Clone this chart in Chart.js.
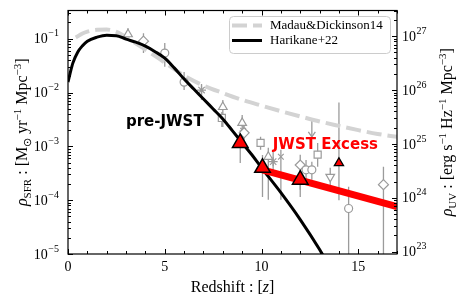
<!DOCTYPE html>
<html>
<head>
<meta charset="utf-8">
<script src="https://cdn.jsdelivr.net/npm/chart.js@4.4.1/dist/chart.umd.min.js"></script>
<style>
html,body{margin:0;padding:0;background:#ffffff;overflow:hidden;}
#c{display:block;}
</style>
</head>
<body>
<canvas id="c" width="463" height="308"></canvas>
<script>
// ---------------- data ----------------
const mdZ   = [0.4, 0.75, 1, 1.5, 2, 2.5, 3, 3.5, 4, 5, 6, 7, 8, 9, 10, 11, 12, 13, 14, 15, 16, 17];
const mdRho = [0.105, 0.125, 0.135, 0.146, 0.148, 0.134, 0.108, 0.082, 0.063, 0.036, 0.0205, 0.0135, 0.0098,
               0.0073, 0.0057, 0.0045, 0.0036, 0.0029, 0.0024, 0.0020, 0.0017, 0.0015];

const hkZ   = [0, 0.1, 0.25, 0.5, 0.75, 1, 1.5, 2, 2.5, 3, 3.5, 4, 4.5, 5, 5.5, 6, 6.5, 7, 7.5, 8, 8.5, 9, 9.5, 10, 11, 12, 13, 13.5];
const hkRho = [0.0156, 0.0220, 0.0352, 0.0562, 0.0741, 0.0899, 0.1067, 0.116, 0.1138, 0.098, 0.0861, 0.0726, 0.0574,
               0.0435, 0.0284, 0.0178, 0.0116, 0.00759, 0.00495, 0.00323, 0.00194, 0.00116, 0.000697, 0.000400,
               0.000138, 4.36e-5, 1.21e-5, 5.9e-6];

const excessZ   = [10.05, 17];
const excessRho = [3.67e-4, 7.6e-5];

// JWST measurements (large triangles) and the z~14 point (small triangle)
const jwstZ   = [8.9, 10.05, 12.0];
const jwstRho = [1.16e-3, 4.0e-4, 2.4e-4];
const jwstLo  = [4.9e-4, 1.15e-4, 1.15e-4];
const jwstHi  = [2.0e-3, 6.9e-4, 4.6e-4];
const jwst14Z   = [14.0];
const jwst14Rho = [4.9e-4];
const jwst14Lo  = [1.0e-4];
const jwst14Hi  = [6.5e-3];

// literature points: [z, rho, lower, upper]
const obsCircles  = [[5.0, 0.054, 0.030, 0.083], [6.0, 0.0156, 0.0111, 0.024], [12.3, 3.67e-4, 1.94e-4, 5.6e-4],
                     [12.6, 3.67e-4, 2.4e-4, 5.2e-4], [14.5, 7.0e-5, 1.0e-5, 1.78e-4]];
const obsSquares  = [[7.95, 3.37e-3, 2.3e-3, 4.35e-3], [9.95, 1.16e-3, 8.6e-4, 1.5e-3], [12.9, 7.0e-4, 4.17e-4, 1.16e-3]];
const obsDiamonds = [[3.9, 0.090, 0.054, 0.126], [9.1, 1.78e-3, 1.32e-3, 2.5e-3], [12.0, 4.5e-4, 1.56e-4, 7.0e-4],
                     [16.3, 1.94e-4, 1.0e-5, 4.17e-4]];
const obsTriUp    = [[3.1, 0.121, 0.094, 0.156], [8.0, 5.38e-3, 2.3e-3, 7.26e-3], [9.0, 2.72e-3, 1.63e-3, 3.83e-3],
                     [10.35, 6.4e-4, 1.02e-4, 9.4e-4]];
const obsTriDown  = [[13.55, 2.72e-4, 1.7e-4, 4.0e-4]];
const obsCrosses  = [[9.05, 1.94e-3, 1.4e-3, 2.6e-3], [11.0, 6.4e-4, 1.02e-4, 8.6e-4]];
const obsStars    = [[6.9, 0.0111, 0.00726, 0.0144], [10.6, 5.2e-4, 2.96e-4, 7.9e-4]];
const obsLimits   = [[12.6, 3.37e-3, 1.5e-3]]; // [z, from, to] upper-limit arrow

const xTicks   = [0, 5, 10, 15];
const yExps    = [-5, -4, -3, -2, -1];
const y2Exps   = [23, 24, 25, 26, 27];
const uvFactor = 1.11e-28;   // rho_SFR = factor * rho_UV
const yMin = 1e-5, yMax = 0.334;

const legendLabels = ['Madau&Dickinson14', 'Harikane+22'];
const noteTexts = ['pre-JWST', 'JWST Excess'];
const noteZ     = [5.0, 13.3];
const noteRho   = [2.8e-3, 1.07e-3];

// ---------------- styling ----------------
const GRAY = '#9b9b9b';
const SERIF = '"Liberation Serif","Times New Roman",serif';
const MD_COLOR = '#d3d3d3';

function xy(zs, vs) { return zs.map((z, i) => ({ x: z, y: vs[i] })); }
function rowsXY(rows) { return rows.map(r => ({ x: r[0], y: r[1] })); }

function obsDataset(rows, style, radius, rotation) {
  return {
    type: 'line', data: rowsXY(rows), showLine: false,
    pointStyle: style, pointRadius: radius, pointHoverRadius: radius, pointRotation: rotation || 0,
    pointBorderColor: GRAY, pointBackgroundColor: '#ffffff', pointBorderWidth: 1.2,
    borderColor: GRAY, backgroundColor: '#ffffff', order: 3, clip: 0
  };
}

function drawRich(ctx, segs, cx, baseY) {
  let total = 0;
  segs.forEach(s => {
    ctx.font = (s.it ? 'italic ' : '') + s.sz + 'px ' + SERIF;
    s.w = ctx.measureText(s.t).width; total += s.w;
  });
  let xx = cx - total / 2;
  ctx.textAlign = 'left'; ctx.textBaseline = 'alphabetic';
  segs.forEach(s => {
    ctx.font = (s.it ? 'italic ' : '') + s.sz + 'px ' + SERIF;
    ctx.fillText(s.t, xx, baseY + (s.dy || 0));
    xx += s.w;
  });
}

function drawSci(ctx, xPos, yPos, exp, align) {
  const base = '10', sup = (exp < 0 ? '\u2212' : '') + Math.abs(exp);
  ctx.font = '14px ' + SERIF; const wb = ctx.measureText(base).width;
  ctx.font = '10px ' + SERIF; const ws = ctx.measureText(sup).width;
  const x0 = align === 'right' ? xPos - wb - ws - 0.5 : xPos;
  ctx.textAlign = 'left'; ctx.textBaseline = 'middle';
  ctx.font = '14px ' + SERIF; ctx.fillText(base, x0, yPos + 1);
  ctx.font = '10px ' + SERIF; ctx.fillText(sup, x0 + wb + 0.5, yPos - 5);
}

const decor = {
  id: 'decor',
  beforeDatasetsDraw(chart) {
    const { ctx, chartArea: a, scales: { x, y } } = chart;
    ctx.save();
    ctx.beginPath(); ctx.rect(a.left, a.top, a.right - a.left, a.bottom - a.top); ctx.clip();
    ctx.strokeStyle = GRAY; ctx.lineWidth = 1.3;
    const bar = (z, lo, hi) => {
      const px = x.getPixelForValue(z);
      ctx.beginPath(); ctx.moveTo(px, y.getPixelForValue(lo)); ctx.lineTo(px, y.getPixelForValue(hi)); ctx.stroke();
    };
    [obsCircles, obsSquares, obsDiamonds, obsTriUp, obsTriDown, obsCrosses, obsStars]
      .forEach(g => g.forEach(r => bar(r[0], r[2], r[3])));
    jwstZ.forEach((z, i) => bar(z, jwstLo[i], jwstHi[i]));
    jwst14Z.forEach((z, i) => bar(z, jwst14Lo[i], jwst14Hi[i]));
    obsLimits.forEach(r => {
      const px = x.getPixelForValue(r[0]);
      const p1 = y.getPixelForValue(r[1]), p2 = y.getPixelForValue(r[2]);
      ctx.beginPath(); ctx.moveTo(px, p1); ctx.lineTo(px, p2); ctx.stroke();
      ctx.beginPath(); ctx.moveTo(px - 3.5, p2 - 5); ctx.lineTo(px, p2); ctx.lineTo(px + 3.5, p2 - 5); ctx.stroke();
    });
    ctx.restore();
  },
  afterDatasetsDraw(chart) {
    const { ctx, scales: { x, y } } = chart;
    ctx.save();
    ctx.font = 'bold 15px "DejaVu Sans", sans-serif';
    ctx.textAlign = 'center'; ctx.textBaseline = 'middle';
    const cols = ['#000000', '#ff0000'];
    noteTexts.forEach((t, i) => {
      ctx.fillStyle = cols[i];
      ctx.fillText(t, x.getPixelForValue(noteZ[i]), y.getPixelForValue(noteRho[i]));
    });
    ctx.restore();
  },
  afterDraw(chart) {
    const { ctx, chartArea: a, scales: { x, y, y2 } } = chart;
    ctx.save();
    ctx.fillStyle = '#000'; ctx.strokeStyle = '#000';
    const line = (x1, y1, x2, y2_) => { ctx.beginPath(); ctx.moveTo(x1, y1); ctx.lineTo(x2, y2_); ctx.stroke(); };
    // frame
    ctx.lineWidth = 1.2;
    ctx.strokeRect(a.left, a.top, a.right - a.left, a.bottom - a.top);
    // x ticks (inward, bottom and top)
    ctx.lineWidth = 1;
    for (let z = Math.ceil(x.min); z <= x.max; z++) {
      const px = Math.round(x.getPixelForValue(z)) + 0.5;
      const len = z % 5 === 0 ? 5 : 3;
      line(px, a.bottom, px, a.bottom - len);
      line(px, a.top, px, a.top + len);
    }
    // log ticks
    const logTicks = (scale, edge, dir) => {
      const lo = Math.floor(Math.log10(scale.min)), hi = Math.ceil(Math.log10(scale.max));
      for (let d = lo; d <= hi; d++) for (let m = 1; m <= 9; m++) {
        const v = m * Math.pow(10, d);
        if (v < scale.min * 0.999 || v > scale.max * 1.001) continue;
        const py = Math.round(scale.getPixelForValue(v)) + 0.5;
        line(edge, py, edge + dir * (m === 1 ? 5 : 3), py);
      }
    };
    logTicks(y, a.left, 1);
    logTicks(y2, a.right, -1);
    // tick labels
    ctx.font = '14px ' + SERIF; ctx.textAlign = 'center'; ctx.textBaseline = 'middle';
    xTicks.forEach(z => ctx.fillText(String(z), x.getPixelForValue(z), a.bottom + 13));
    yExps.forEach(e => drawSci(ctx, a.left - 9, y.getPixelForValue(Math.pow(10, e)), e, 'right'));
    y2Exps.forEach(e => drawSci(ctx, a.right + 5, y2.getPixelForValue(Math.pow(10, e)), e, 'left'));
    // axis titles
    drawRich(ctx, [{ t: 'Redshift : [', sz: 16 }, { t: 'z', sz: 16, it: true }, { t: ']', sz: 16 }],
      (a.left + a.right) / 2, a.bottom + 38);
    const cy = (a.top + a.bottom) / 2;
    ctx.save();
    ctx.translate(22, cy); ctx.rotate(-Math.PI / 2);
    drawRich(ctx, [{ t: '\u03C1', sz: 16, it: true }, { t: 'SFR', sz: 11, dy: 3.5 }, { t: ' : [M', sz: 16 },
      { t: '\u2299', sz: 11, dy: 3.5 }, { t: ' yr', sz: 16 }, { t: '\u22121', sz: 11, dy: -6 },
      { t: ' Mpc', sz: 16 }, { t: '\u22123', sz: 11, dy: -6 }, { t: ']', sz: 16 }], 0, 5);
    ctx.restore();
    ctx.save();
    ctx.translate(447, cy); ctx.rotate(-Math.PI / 2);
    drawRich(ctx, [{ t: '\u03C1', sz: 16, it: true }, { t: 'UV', sz: 11, dy: 3.5 }, { t: ' : [erg s', sz: 16 },
      { t: '\u22121', sz: 11, dy: -6 }, { t: ' Hz', sz: 16 }, { t: '\u22121', sz: 11, dy: -6 },
      { t: ' Mpc', sz: 16 }, { t: '\u22123', sz: 11, dy: -6 }, { t: ']', sz: 16 }], 0, 5);
    ctx.restore();
    // legend
    const lx = 229.5, ly = 16.5, lw = 161, lh = 37, r = 4;
    ctx.beginPath();
    ctx.moveTo(lx + r, ly); ctx.lineTo(lx + lw - r, ly); ctx.arcTo(lx + lw, ly, lx + lw, ly + r, r);
    ctx.lineTo(lx + lw, ly + lh - r); ctx.arcTo(lx + lw, ly + lh, lx + lw - r, ly + lh, r);
    ctx.lineTo(lx + r, ly + lh); ctx.arcTo(lx, ly + lh, lx, ly + lh - r, r);
    ctx.lineTo(lx, ly + r); ctx.arcTo(lx, ly, lx + r, ly, r); ctx.closePath();
    ctx.fillStyle = 'rgba(255,255,255,0.85)'; ctx.fill();
    ctx.strokeStyle = '#cccccc'; ctx.lineWidth = 1; ctx.stroke();
    ctx.strokeStyle = MD_COLOR; ctx.lineWidth = 4; ctx.setLineDash([15, 6]);
    line(232, 25.5, 262, 25.5);
    ctx.setLineDash([]); ctx.strokeStyle = '#000'; ctx.lineWidth = 3;
    line(232, 40.5, 262, 40.5);
    ctx.fillStyle = '#000'; ctx.font = '13px ' + SERIF; ctx.textAlign = 'left'; ctx.textBaseline = 'middle';
    ctx.fillText(legendLabels[0], 270, 26);
    ctx.fillText(legendLabels[1], 270, 41);
    ctx.restore();
  }
};

new Chart(document.getElementById('c'), {
  type: 'line',
  data: {
    datasets: [
      { data: xy(jwstZ, jwstRho), showLine: false, pointStyle: 'triangle', pointRadius: 9, pointHoverRadius: 9,
        pointBackgroundColor: '#ff0000', pointBorderColor: '#000000', pointBorderWidth: 1.5,
        backgroundColor: '#ff0000', borderColor: '#000000', order: 0, clip: 0 },
      { data: xy(jwst14Z, jwst14Rho), showLine: false, pointStyle: 'triangle', pointRadius: 5.3, pointHoverRadius: 5.3,
        pointBackgroundColor: '#ff0000', pointBorderColor: '#000000', pointBorderWidth: 1.3,
        backgroundColor: '#ff0000', borderColor: '#000000', order: 0, clip: 0 },
      { data: xy(excessZ, excessRho), borderColor: '#ff0000', borderWidth: 7, pointRadius: 0, order: 1, clip: 0 },
      { data: xy(hkZ, hkRho), borderColor: '#000000', borderWidth: 3, pointRadius: 0,
        cubicInterpolationMode: 'monotone', order: 2, clip: 0 },
      obsDataset(obsCircles, 'circle', 4),
      obsDataset(obsSquares, 'rect', 5),
      obsDataset(obsDiamonds, 'rectRot', 5),
      obsDataset(obsTriUp, 'triangle', 5),
      obsDataset(obsTriDown, 'triangle', 5, 180),
      obsDataset(obsCrosses, 'crossRot', 4),
      obsDataset(obsStars, 'star', 4.5),
      { data: xy(mdZ, mdRho), borderColor: MD_COLOR, borderWidth: 4, borderDash: [15, 6], pointRadius: 0,
        cubicInterpolationMode: 'monotone', order: 4, clip: 0 }
    ]
  },
  options: {
    responsive: false, animation: false, devicePixelRatio: 1,
    layout: { padding: { top: 10, left: 0, right: 0, bottom: 0 } },
    plugins: { legend: { display: false }, tooltip: { enabled: false } },
    events: [],
    scales: {
      x: { type: 'linear', min: 0, max: 17, grid: { display: false }, border: { display: false },
           ticks: { display: false }, afterFit(s) { s.height = 54; } },
      y: { type: 'logarithmic', position: 'left', min: yMin, max: yMax, grid: { display: false },
           border: { display: false }, ticks: { display: false }, afterFit(s) { s.width = 68; } },
      y2: { type: 'logarithmic', position: 'right', min: yMin / uvFactor, max: yMax / uvFactor,
            grid: { display: false }, border: { display: false }, ticks: { display: false },
            afterFit(s) { s.width = 66; } }
    }
  },
  plugins: [decor]
});
</script>
</body>
</html>
